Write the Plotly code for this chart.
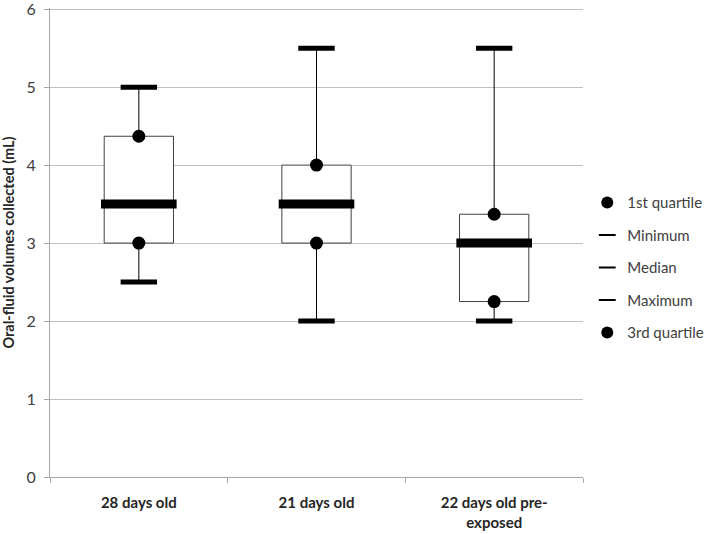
import plotly.graph_objects as go

categories = ["28 days old", "21 days old", "22 days old pre-<br>exposed"]
q1 = [3.0, 3.0, 2.25]
minimum = [2.5, 2.0, 2.0]
median = [3.5, 3.5, 3.0]
maximum = [5.0, 5.5, 5.5]
q3 = [4.37, 4.0, 3.37]

FONT = "Lato, 'Open Sans', sans-serif"
fig = go.Figure()

# box body
fig.add_trace(go.Bar(
    x=categories, y=[b - a for a, b in zip(q1, q3)], base=q1,
    width=0.39, marker=dict(color="white", line=dict(color="#404040", width=1)),
    showlegend=False, hoverinfo="skip"))

# whiskers (min->Q1, Q3->max)
wx, wy = [], []
for c, a, b, c3, d in zip(categories, minimum, q1, q3, maximum):
    wx += [c, c, None, c, c, None]
    wy += [a, b, None, c3, d, None]
fig.add_trace(go.Scatter(x=wx, y=wy, mode="lines", line=dict(color="black", width=1),
                         showlegend=False, hoverinfo="skip"))

def add(name, vals, symbol, size, lw):
    fig.add_trace(go.Scatter(
        x=categories, y=vals, mode="markers", name=name, legendgroup=name,
        marker=dict(symbol=symbol, size=size, color="black",
                    line=dict(color="black", width=lw))))

add("1st quartile", q1, "circle", 13, 0)
add("Minimum", minimum, "line-ew", 26, 5)
add("Median", median, "line-ew", 54, 9)
add("Maximum", maximum, "line-ew", 26, 5)
add("3rd quartile", q3, "circle", 13, 0)

fig.update_layout(
    width=714, height=534,
    margin=dict(l=50, r=131, t=8, b=57, autoexpand=False),
    plot_bgcolor="white", paper_bgcolor="white",
    font=dict(family=FONT, color="#404040"),
    showlegend=True,
    legend=dict(x=1.008, y=0.62, xanchor="left", yanchor="top",
                font=dict(size=15, color="#404040"),
                traceorder="grouped", tracegroupgap=10, itemsizing="constant",
                itemwidth=30, bgcolor="rgba(0,0,0,0)"),
    xaxis=dict(type="category", range=[-0.5, 2.5], showline=True, linecolor="#a6a6a6",
               ticks="outside", tickson="boundaries", ticklen=5, tickcolor="#a6a6a6",
               tickfont=dict(size=15, color="#262626"), automargin=False,
               ticklabelstandoff=12, showgrid=False),
    yaxis=dict(range=[0, 6.015], tickvals=[0, 1, 2, 3, 4, 5, 6], showline=True, linecolor="#a6a6a6",
               ticks="outside", ticklen=5, tickcolor="#a6a6a6", automargin=False,
               ticklabeloverflow="allow", ticklabelstandoff=5,
               gridcolor="#c0c0c0", gridwidth=1, zeroline=False,
               tickfont=dict(size=16, color="#404040"),
               title=dict(text="<b>Oral-fluid volumes collected (mL)</b>",
                          font=dict(size=14.5, color="#262626"), standoff=9)),
)
fig.update_xaxes(tickvals=categories, ticktext=["<b>" + c.replace("<br>", "</b><br><b>") + "</b>" for c in categories])

fig.write_html("out.html", config={"displayModeBar": False},
               post_script="document.body.style.margin='0';")
